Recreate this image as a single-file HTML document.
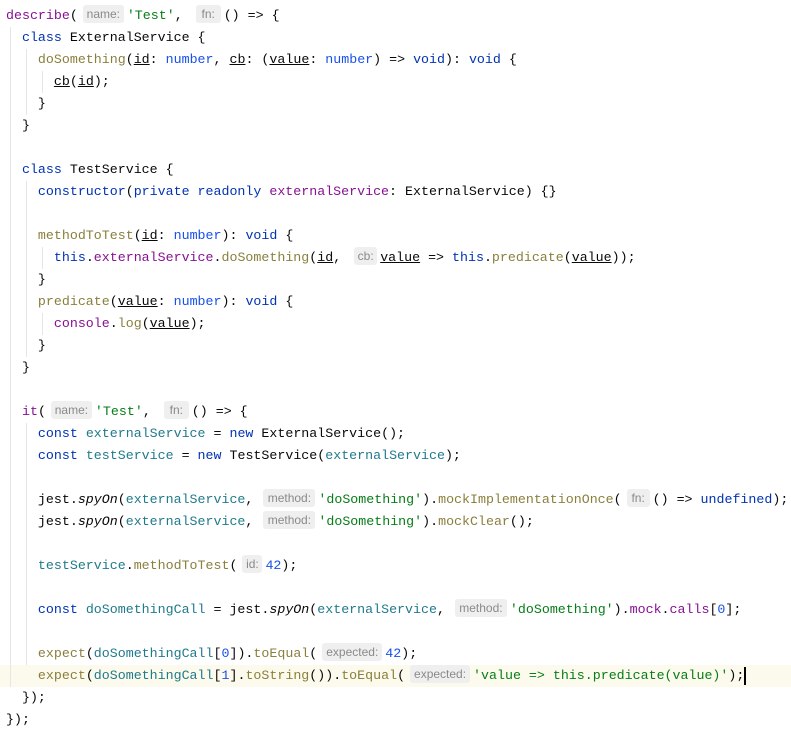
<!DOCTYPE html>
<html><head><meta charset="utf-8"><style>
body{margin:0;background:#fff;width:791px;height:732px;overflow:hidden;position:relative;}
.l{position:absolute;left:6px;height:22px;line-height:22px;font-family:"Liberation Mono",monospace;font-size:13.3px;color:#080808;white-space:pre;}
.h{display:inline-block;font-family:"Liberation Sans",sans-serif;font-size:12px;color:#8a8a8a;background:#efefef;border-radius:3px;line-height:18px;text-align:center;margin:0 3px 0 5px;vertical-align:1px;}
.k{color:#0033b3}.s{color:#067d17}.p{color:#871094}.f{color:#8a7f3c}.v{color:#1f7a8c}.n{color:#1750eb}.t{color:#1750eb}
.u{text-decoration:underline}.i{font-style:italic}
.g{position:absolute;width:1px;background:#e6e6e6;}
</style></head><body>
<div style="position:absolute;left:0;top:665px;width:791px;height:22px;background:#fcfaed"></div>
<div class="g" style="left:10px;top:27px;height:660px"></div>
<div class="g" style="left:26px;top:49px;height:66px"></div>
<div class="g" style="left:26px;top:181px;height:176px"></div>
<div class="g" style="left:26px;top:423px;height:242px"></div>
<div class="g" style="left:42px;top:71px;height:22px"></div>
<div class="g" style="left:42px;top:247px;height:22px"></div>
<div class="g" style="left:42px;top:313px;height:22px"></div>
<div style="position:absolute;left:744px;top:667px;width:2px;height:18px;background:#000"></div>

<div class="l" style="top:5px"><span class="p">describe</span>(<span class="h" style="width:41px">name:</span><span class="s">'Test'</span>, <span class="h" style="width:25px">fn:</span>() =&gt; {</div>
<div class="l" style="top:27px">  <span class="k">class</span> ExternalService {</div>
<div class="l" style="top:49px">    <span class="f">doSomething</span>(<span class="u">id</span>: <span class="t">number</span>, <span class="u">cb</span>: (<span class="u">value</span>: <span class="t">number</span>) =&gt; <span class="k">void</span>): <span class="k">void</span> {</div>
<div class="l" style="top:71px">      <span class="u">cb</span>(<span class="u">id</span>);</div>
<div class="l" style="top:93px">    }</div>
<div class="l" style="top:115px">  }</div>
<div class="l" style="top:159px">  <span class="k">class</span> TestService {</div>
<div class="l" style="top:181px">    <span class="k">constructor</span>(<span class="k">private readonly</span> <span class="p">externalService</span>: ExternalService) {}</div>
<div class="l" style="top:225px">    <span class="f">methodToTest</span>(<span class="u">id</span>: <span class="t">number</span>): <span class="k">void</span> {</div>
<div class="l" style="top:247px">      <span class="k">this</span>.<span class="p">externalService</span>.<span class="f">doSomething</span>(<span class="u">id</span>, <span class="h" style="width:23px">cb:</span><span class="u">value</span> =&gt; <span class="k">this</span>.<span class="f">predicate</span>(<span class="u">value</span>));</div>
<div class="l" style="top:269px">    }</div>
<div class="l" style="top:291px">    <span class="f">predicate</span>(<span class="u">value</span>: <span class="t">number</span>): <span class="k">void</span> {</div>
<div class="l" style="top:313px">      <span class="p">console</span>.<span class="f">log</span>(<span class="u">value</span>);</div>
<div class="l" style="top:335px">    }</div>
<div class="l" style="top:357px">  }</div>
<div class="l" style="top:401px">  <span class="p">it</span>(<span class="h" style="width:41px">name:</span><span class="s">'Test'</span>, <span class="h" style="width:25px">fn:</span>() =&gt; {</div>
<div class="l" style="top:423px">    <span class="k">const</span> <span class="v">externalService</span> = <span class="k">new</span> ExternalService();</div>
<div class="l" style="top:445px">    <span class="k">const</span> <span class="v">testService</span> = <span class="k">new</span> TestService(<span class="v">externalService</span>);</div>
<div class="l" style="top:489px">    jest.<span class="i">spyOn</span>(<span class="v">externalService</span>, <span class="h" style="width:52px;margin-left:2px">method:</span><span class="s">'doSomething'</span>).<span class="f">mockImplementationOnce</span>(<span class="h" style="width:23px">fn:</span>() =&gt; <span class="k">undefined</span>);</div>
<div class="l" style="top:511px">    jest.<span class="i">spyOn</span>(<span class="v">externalService</span>, <span class="h" style="width:52px;margin-left:2px">method:</span><span class="s">'doSomething'</span>).<span class="f">mockClear</span>();</div>
<div class="l" style="top:555px">    <span class="v">testService</span>.<span class="f">methodToTest</span>(<span class="h" style="width:20px">id:</span><span class="n">42</span>);</div>
<div class="l" style="top:599px">    <span class="k">const</span> <span class="v">doSomethingCall</span> = jest.<span class="i">spyOn</span>(<span class="v">externalService</span>, <span class="h" style="width:52px;margin-left:2px">method:</span><span class="s">'doSomething'</span>).<span class="p">mock</span>.<span class="p">calls</span>[<span class="n">0</span>];</div>
<div class="l" style="top:643px">    <span class="f">expect</span>(<span class="v">doSomethingCall</span>[<span class="n">0</span>]).<span class="f">toEqual</span>(<span class="h" style="width:60px">expected:</span><span class="n">42</span>);</div>
<div class="l" style="top:665px">    <span class="f">expect</span>(<span class="v">doSomethingCall</span>[<span class="n">1</span>].<span class="f">toString</span>()).<span class="f">toEqual</span>(<span class="h" style="width:60px">expected:</span><span class="s">'value =&gt; this.predicate(value)'</span>);</div>
<div class="l" style="top:687px">  });</div>
<div class="l" style="top:709px">});</div>
</body></html>
